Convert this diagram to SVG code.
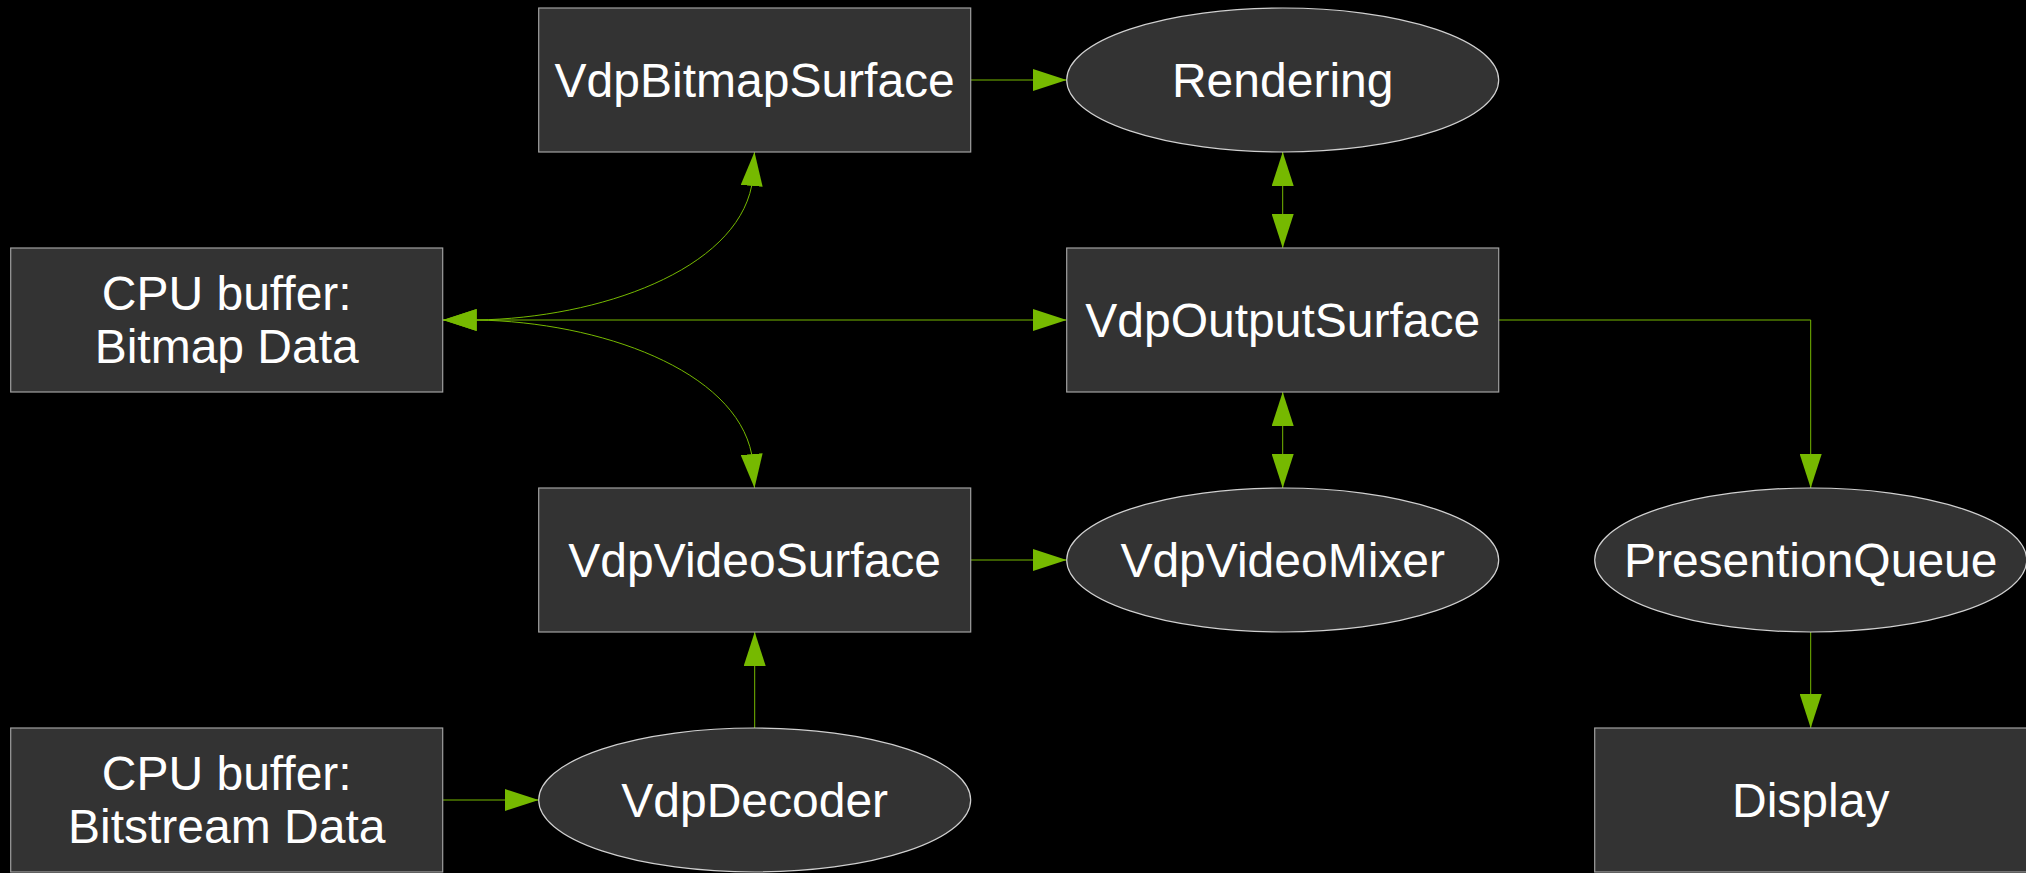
<svg xmlns="http://www.w3.org/2000/svg" width="2026" height="873" viewBox="0 0 2026 873">
<style>
.box{fill:#333333;stroke:#a0a0a0;stroke-width:1.2}
.ell{fill:#333333;stroke:#d0d0d0;stroke-width:1.2}
.lbl{font-family:"Liberation Sans",Arial,sans-serif;font-size:48px;fill:#ffffff;text-anchor:middle}
.edge{fill:none;stroke:#76b900;stroke-width:1}
</style>
<defs>
<marker id="ah" viewBox="0 0 34 22" markerWidth="34" markerHeight="22" refX="34" refY="11" markerUnits="userSpaceOnUse" orient="auto-start-reverse">
<path d="M0,0 L34,11 L0,22 Z" fill="#76b900"/>
</marker>
</defs>
<rect width="2026" height="873" fill="#000000"/>
<g id="connectors">
<path class="edge" d="M970.7,80 L1066.7,80" marker-end="url(#ah)"/>
<path class="edge" d="M1282.7,152 L1282.7,248" marker-start="url(#ah)" marker-end="url(#ah)"/>
<path class="edge" d="M442.7,320 L1066.7,320" marker-end="url(#ah)"/>
<path class="edge" d="M442.7,320 L476.7,320 C600,318 735,270 751.7,185.7 L754.5,152" marker-start="url(#ah)" marker-end="url(#ah)"/>
<path class="edge" d="M442.7,320 L476.7,320 C600,322 735,370 751.7,454.3 L754.5,488" marker-start="url(#ah)" marker-end="url(#ah)"/>
<path class="edge" d="M1498.7,320 L1810.7,320 L1810.7,488" marker-end="url(#ah)"/>
<path class="edge" d="M1282.7,392 L1282.7,488" marker-start="url(#ah)" marker-end="url(#ah)"/>
<path class="edge" d="M970.7,560 L1066.7,560" marker-end="url(#ah)"/>
<path class="edge" d="M754.7,728 L754.7,632" marker-end="url(#ah)"/>
<path class="edge" d="M442.7,800 L538.7,800" marker-end="url(#ah)"/>
<path class="edge" d="M1810.7,632 L1810.7,728" marker-end="url(#ah)"/>
</g>
<g id="VdpBitmapSurface">
<rect class="box" x="538.7" y="8" width="432" height="144"/>
<text class="lbl" x="754.7" y="97">VdpBitmapSurface</text>
</g>
<g id="Rendering">
<ellipse class="ell" cx="1282.7" cy="80" rx="216" ry="72"/>
<text class="lbl" x="1282.7" y="97">Rendering</text>
</g>
<g id="CPUBitmap">
<rect class="box" x="10.7" y="248" width="432" height="144"/>
<text class="lbl" x="226.7" y="310">CPU buffer:</text>
<text class="lbl" x="226.7" y="363">Bitmap Data</text>
</g>
<g id="VdpOutputSurface">
<rect class="box" x="1066.7" y="248" width="432" height="144"/>
<text class="lbl" x="1282.7" y="337">VdpOutputSurface</text>
</g>
<g id="VdpVideoSurface">
<rect class="box" x="538.7" y="488" width="432" height="144"/>
<text class="lbl" x="754.7" y="577">VdpVideoSurface</text>
</g>
<g id="VdpVideoMixer">
<ellipse class="ell" cx="1282.7" cy="560" rx="216" ry="72"/>
<text class="lbl" x="1282.7" y="577">VdpVideoMixer</text>
</g>
<g id="PresentionQueue">
<ellipse class="ell" cx="1810.7" cy="560" rx="216" ry="72"/>
<text class="lbl" x="1810.7" y="577">PresentionQueue</text>
</g>
<g id="CPUBitstream">
<rect class="box" x="10.7" y="728" width="432" height="144"/>
<text class="lbl" x="226.7" y="790">CPU buffer:</text>
<text class="lbl" x="226.7" y="843">Bitstream Data</text>
</g>
<g id="VdpDecoder">
<ellipse class="ell" cx="754.7" cy="800" rx="216" ry="72"/>
<text class="lbl" x="754.7" y="817">VdpDecoder</text>
</g>
<g id="Display">
<rect class="box" x="1594.7" y="728" width="432" height="144"/>
<text class="lbl" x="1810.7" y="817">Display</text>
</g>
</svg>
